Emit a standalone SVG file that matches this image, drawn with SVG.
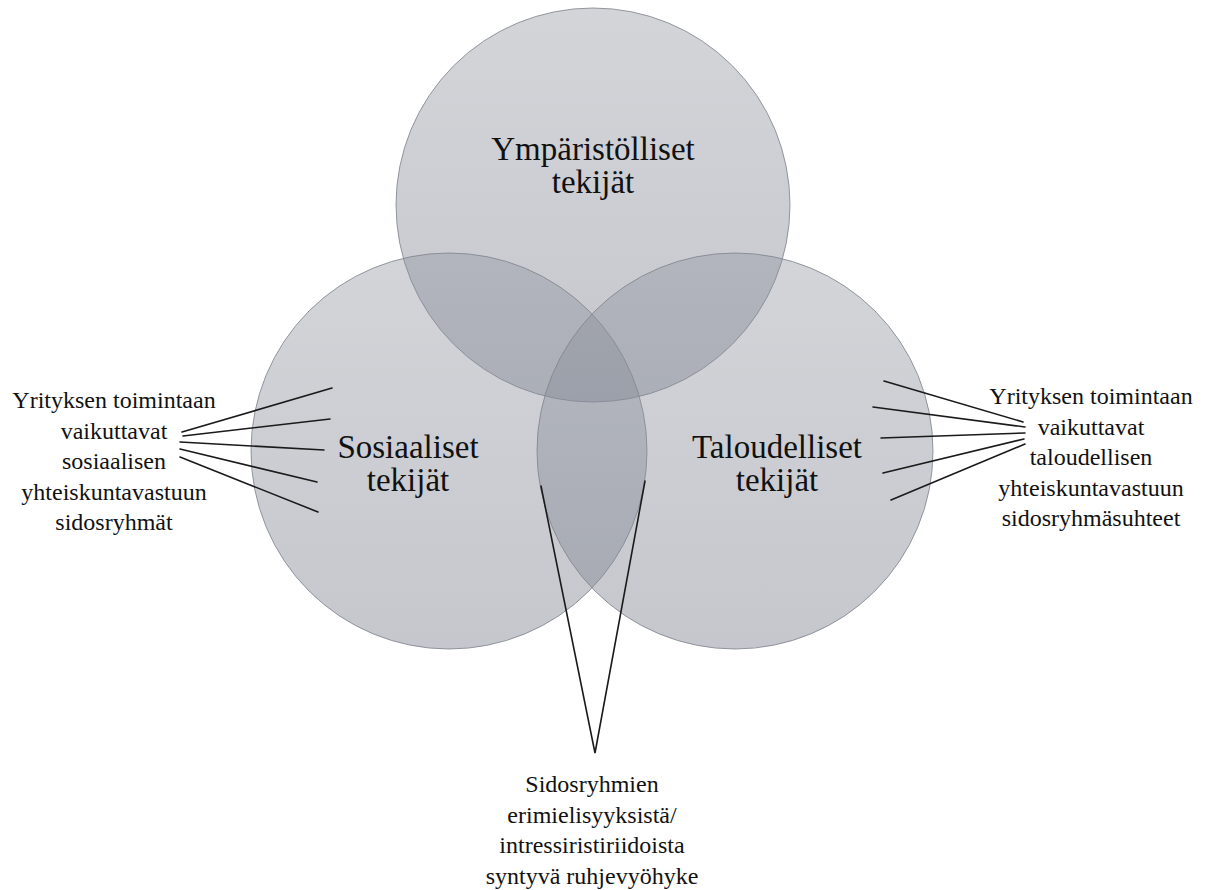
<svg xmlns="http://www.w3.org/2000/svg" width="1207" height="890" viewBox="0 0 1207 890">
<defs>
<linearGradient id="g" x1="0" y1="0" x2="0" y2="1">
<stop offset="0" stop-color="rgb(138,143,154)" stop-opacity="0.38"/>
<stop offset="1" stop-color="rgb(128,133,146)" stop-opacity="0.46"/>
</linearGradient>
<style>
.c{fill:url(#g);stroke:#7e828b;stroke-width:1;stroke-opacity:0.8}
.t{fill:#111;text-anchor:middle}
.big{font-size:33px}
.small{font-size:24px}
.ln{stroke:#1a1a1a;stroke-width:1.6;fill:none;stroke-linecap:round}
</style>
</defs>
<rect width="1207" height="890" fill="#ffffff"/>
<g id="ymparistolliset">
<circle class="c" cx="593" cy="205" r="197"/>
</g>
<g id="sosiaaliset">
<circle class="c" cx="449" cy="451" r="198"/>
</g>
<g id="taloudelliset">
<circle class="c" cx="735" cy="451" r="198"/>
</g>
<g font-family="'Liberation Serif', 'Times New Roman', 'DejaVu Serif', serif">
<g id="labels-main">
<text class="t big" x="593" y="160">Ympäristölliset</text>
<text class="t big" x="593" y="193">tekijät</text>
<text class="t big" x="408" y="458">Sosiaaliset</text>
<text class="t big" x="408" y="491">tekijät</text>
<text class="t big" x="777" y="458">Taloudelliset</text>
<text class="t big" x="777" y="491">tekijät</text>
</g>
<g id="left-note">
<text class="t small" x="114" y="408">Yrityksen toimintaan</text>
<text class="t small" x="114" y="438.5">vaikuttavat</text>
<text class="t small" x="114" y="469">sosiaalisen</text>
<text class="t small" x="114" y="499.5">yhteiskuntavastuun</text>
<text class="t small" x="114" y="530">sidosryhmät</text>
</g>
<g id="right-note">
<text class="t small" x="1091" y="404">Yrityksen toimintaan</text>
<text class="t small" x="1091" y="434.5">vaikuttavat</text>
<text class="t small" x="1091" y="465">taloudellisen</text>
<text class="t small" x="1091" y="495.5">yhteiskuntavastuun</text>
<text class="t small" x="1091" y="526">sidosryhmäsuhteet</text>
</g>
<g id="bottom-note">
<text class="t small" x="592" y="792">Sidosryhmien</text>
<text class="t small" x="592" y="822.5">erimielisyyksistä/</text>
<text class="t small" x="592" y="853">intressiristiriidoista</text>
<text class="t small" x="592" y="883.5">syntyvä ruhjevyöhyke</text>
</g>
</g>
<g id="connectors">
<line class="ln" x1="182" y1="432" x2="332" y2="388"/>
<line class="ln" x1="183" y1="436" x2="330" y2="419"/>
<line class="ln" x1="180" y1="442" x2="324" y2="450"/>
<line class="ln" x1="180" y1="449" x2="317" y2="482"/>
<line class="ln" x1="180" y1="457" x2="318" y2="512"/>
<line class="ln" x1="884" y1="381" x2="1023" y2="422"/>
<line class="ln" x1="873" y1="407" x2="1025" y2="427"/>
<line class="ln" x1="881" y1="438" x2="1025" y2="433"/>
<line class="ln" x1="883" y1="473" x2="1024" y2="439"/>
<line class="ln" x1="891" y1="500" x2="1025" y2="444"/>
<polyline class="ln" points="541,486 595,753 645,481"/>
</g>
</svg>
